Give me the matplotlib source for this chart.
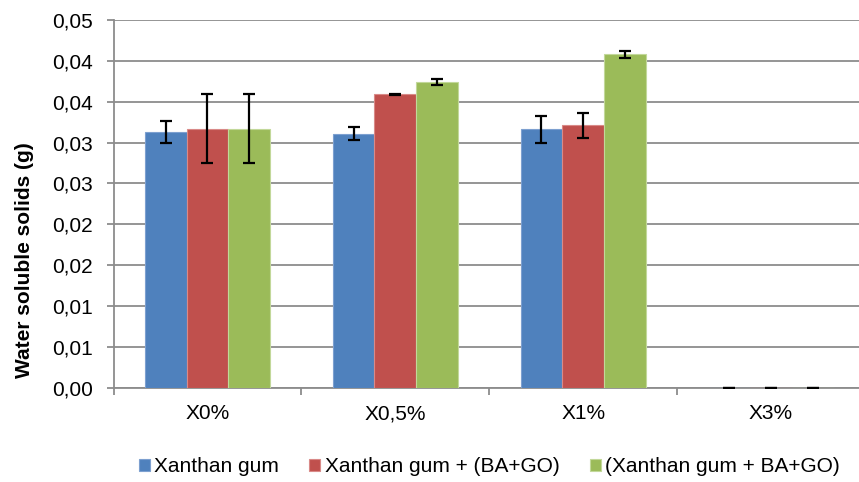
import matplotlib
matplotlib.use("Agg")
import matplotlib.pyplot as plt
import numpy as np

plt.rcParams["font.family"] = ["Liberation Sans", "DejaVu Sans"]

categories = ["X0%", "X0,5%", "X1%", "X3%"]
series_names = ["Xanthan gum", "Xanthan gum + (BA+GO)", "(Xanthan gum + BA+GO)"]
xanthan = [0.0313, 0.0311, 0.0316, 0.0]
xanthan_err = [0.0013, 0.0008, 0.0017, 0.0]
xanthan_baga = [0.0317, 0.0359, 0.0321, 0.0]
xanthan_baga_err = [0.0042, 0.0001, 0.0015, 0.0]
xanthan_ba_go = [0.0317, 0.0374, 0.0408, 0.0]
xanthan_ba_go_err = [0.0042, 0.0004, 0.0004, 0.0]
y_ticks = [0.0, 0.005, 0.010, 0.015, 0.020, 0.025, 0.030, 0.035, 0.040, 0.045]
y_tick_labels = ["0,00", "0,01", "0,01", "0,02", "0,02", "0,03", "0,03", "0,04", "0,04", "0,05"]

fill_colors = ["#4F81BD", "#C0504D", "#9BBB59"]
edge_colors = ["#7DA0D0", "#D98A88", "#C2D89A"]

fig = plt.figure(figsize=(8.59, 4.82), dpi=100)
ax = fig.add_axes([113.5 / 859, 1 - 387.7 / 482, (865 - 113.5) / 859, (387.7 - 20) / 482])

x = np.arange(len(categories))
width = 0.222
values = [xanthan, xanthan_baga, xanthan_ba_go]
errors = [xanthan_err, xanthan_baga_err, xanthan_ba_go_err]

for i, (vals, errs) in enumerate(zip(values, errors)):
    pos = x + (i - 1) * width
    ax.bar(pos, vals, width=width, color=fill_colors[i], edgecolor=edge_colors[i],
           linewidth=0.8, label=series_names[i], zorder=3)
    ax.errorbar(pos, vals, yerr=errs, fmt="none", ecolor="black", elinewidth=1.6,
                capsize=4.3, capthick=1.6, zorder=4)

ax.set_xlim(-0.5, len(categories) - 0.5)
ax.set_ylim(0, 0.045)
ax.set_yticks(y_ticks)
ax.set_yticklabels(y_tick_labels)
ax.set_xticks(x)
ax.set_xticklabels(categories)
ax.set_xticks(np.arange(len(categories) + 1) - 0.5, minor=True)

grid_color = "#8C8C8C"
ax.grid(axis="y", color=grid_color, linewidth=1.3, zorder=0)
ax.set_axisbelow(True)
for side in ["top", "right"]:
    ax.spines[side].set_visible(False)
ax.spines["left"].set_color(grid_color)
ax.spines["left"].set_linewidth(1.3)
ax.spines["bottom"].set_color(grid_color)
ax.spines["bottom"].set_linewidth(1.3)

ax.tick_params(axis="y", which="major", length=5, width=1.3, color=grid_color,
               labelsize=15, pad=10)
ax.tick_params(axis="x", which="major", length=0, labelsize=15, pad=12)
ax.tick_params(axis="x", which="minor", length=5, width=1.3, color=grid_color)

fig.text(25 / 859, 1 - 260 / 482, "Water soluble solids (g)", rotation=90,
         ha="center", va="center", fontsize=15, fontweight="bold")

ax.legend(loc="center", bbox_to_anchor=(0.5, (387.7 - 466.7) / (387.7 - 20)),
          ncol=3, frameon=False, fontsize=15, handlelength=0.53, handleheight=0.53,
          handletextpad=0.22, columnspacing=1.44, borderaxespad=0)

fig.savefig("out.png", dpi=100)
